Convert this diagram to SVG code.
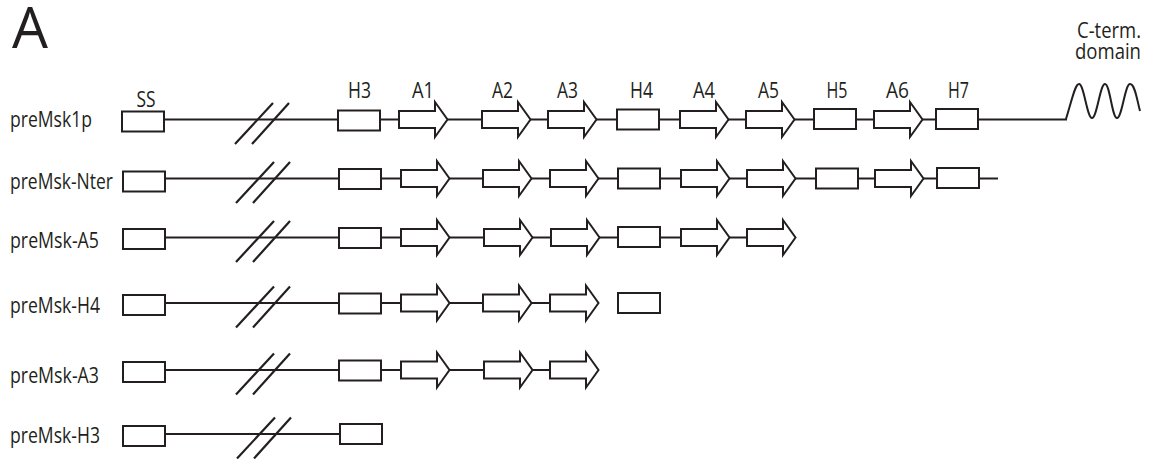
<svg xmlns="http://www.w3.org/2000/svg" width="1149" height="459" viewBox="0 0 1149 459">
<style>
.bb{stroke:#231f20;stroke-width:2;fill:none}
.sl{stroke:#231f20;stroke-width:2.2;fill:none}
.bx{fill:#fff;stroke:#231f20;stroke-width:2}
.lab{font-family:"Open Sans","Liberation Sans",sans-serif;font-size:21px;fill:#231f20}
.top{font-family:"Open Sans","Liberation Sans",sans-serif;font-size:21px;fill:#231f20;text-anchor:middle}
</style>
<defs>
<path id="arr" d="M0,-8.5 H36 V-17.5 L48.5,0 L36,17.5 V8.5 H0 Z" class="bx"/>
<rect id="box" x="0" y="-10" width="42" height="20" class="bx"/>
<g id="brk"><line x1="0" y1="24.5" x2="38" y2="-16.5" class="sl"/><line x1="17" y1="24.5" x2="54" y2="-16.5" class="sl"/></g>
</defs>
<rect width="1149" height="459" fill="#fff"/>
<text x="12" y="48" font-family="'Open Sans','Liberation Sans',sans-serif" font-size="56" fill="#231f20" textLength="36" lengthAdjust="spacingAndGlyphs">A</text>
<g id="connectors">
<line x1="164" y1="119.5" x2="1067" y2="119.5" class="bb"/>
<path d="M1066,119 C1072,100 1075,84 1079,84 C1084,84 1087,118 1092,118 C1097,118 1100,84 1105,84 C1110,84 1112,118 1117,118 C1122,118 1125,84 1130,84 C1135,84 1137,100 1140,111" class="bb" stroke-width="1.8"/>
<line x1="165" y1="178.5" x2="998" y2="178.5" class="bb"/>
<line x1="165" y1="237.5" x2="747" y2="237.5" class="bb"/>
<line x1="165" y1="303" x2="550" y2="303" class="bb"/>
<line x1="165" y1="370" x2="550" y2="370" class="bb"/>
<line x1="166" y1="434" x2="340" y2="434" class="bb"/>
</g>
<g id="row-preMsk1p">
<text class="lab" x="10" y="127" textLength="82" lengthAdjust="spacingAndGlyphs">preMsk1p</text>
<text class="top" x="146" y="107" textLength="19" lengthAdjust="spacingAndGlyphs">SS</text>
<text class="top" x="359.5" y="98" textLength="23" lengthAdjust="spacingAndGlyphs">H3</text>
<text class="top" x="423" y="98" textLength="22" lengthAdjust="spacingAndGlyphs">A1</text>
<text class="top" x="502.5" y="98" textLength="21" lengthAdjust="spacingAndGlyphs">A2</text>
<text class="top" x="567.5" y="98" textLength="21" lengthAdjust="spacingAndGlyphs">A3</text>
<text class="top" x="641.5" y="98" textLength="23" lengthAdjust="spacingAndGlyphs">H4</text>
<text class="top" x="704" y="98" textLength="22" lengthAdjust="spacingAndGlyphs">A4</text>
<text class="top" x="768.5" y="98" textLength="21" lengthAdjust="spacingAndGlyphs">A5</text>
<text class="top" x="837" y="98" textLength="21" lengthAdjust="spacingAndGlyphs">H5</text>
<text class="top" x="897.5" y="98" textLength="23" lengthAdjust="spacingAndGlyphs">A6</text>
<text class="top" x="958.5" y="98" textLength="21" lengthAdjust="spacingAndGlyphs">H7</text>
<text class="top" x="1109" y="38" font-size="20" textLength="64" lengthAdjust="spacingAndGlyphs">C-term.</text>
<text class="top" x="1108" y="59" font-size="20" textLength="66" lengthAdjust="spacingAndGlyphs">domain</text>
<use href="#box" x="122" y="121.5"/>
<use href="#brk" x="235" y="119.5"/>
<use href="#box" x="338" y="120.5"/>
<use href="#arr" x="399" y="119.5"/>
<use href="#arr" x="482" y="119.5"/>
<use href="#arr" x="548" y="119.5"/>
<use href="#box" x="617" y="119.5"/>
<use href="#arr" x="680" y="119.5"/>
<use href="#arr" x="746" y="119.5"/>
<use href="#box" x="814" y="119"/>
<use href="#arr" x="874" y="119.5"/>
<use href="#box" x="936" y="119"/>
</g>
<g id="row-preMsk-Nter">
<text class="lab" x="10" y="189" textLength="103" lengthAdjust="spacingAndGlyphs">preMsk-Nter</text>
<use href="#box" x="123" y="181.5"/>
<use href="#brk" x="236" y="178.5"/>
<use href="#box" x="339" y="179"/>
<use href="#arr" x="401" y="178.5"/>
<use href="#arr" x="483" y="178.5"/>
<use href="#arr" x="550" y="178.5"/>
<use href="#box" x="618" y="178.5"/>
<use href="#arr" x="681" y="178.5"/>
<use href="#arr" x="747" y="178.5"/>
<use href="#box" x="816" y="178.5"/>
<use href="#arr" x="875" y="178.5"/>
<use href="#box" x="937" y="178"/>
</g>
<g id="row-preMsk-A5">
<text class="lab" x="10" y="248" textLength="89" lengthAdjust="spacingAndGlyphs">preMsk-A5</text>
<use href="#box" x="123" y="239"/>
<use href="#brk" x="236" y="237.5"/>
<use href="#box" x="339" y="238"/>
<use href="#arr" x="401" y="237.5"/>
<use href="#arr" x="484" y="237.5"/>
<use href="#arr" x="551" y="237.5"/>
<use href="#box" x="618" y="237"/>
<use href="#arr" x="681" y="237.5"/>
<use href="#arr" x="747" y="237.5"/>
</g>
<g id="row-preMsk-H4">
<text class="lab" x="10" y="313" textLength="90" lengthAdjust="spacingAndGlyphs">preMsk-H4</text>
<use href="#box" x="123" y="305"/>
<use href="#brk" x="236" y="303"/>
<use href="#box" x="339" y="303.5"/>
<use href="#arr" x="401" y="303"/>
<use href="#arr" x="483" y="303"/>
<use href="#arr" x="550" y="303"/>
<use href="#box" x="618" y="303"/>
</g>
<g id="row-preMsk-A3">
<text class="lab" x="10" y="383" textLength="89" lengthAdjust="spacingAndGlyphs">preMsk-A3</text>
<use href="#box" x="123" y="372"/>
<use href="#brk" x="236" y="370"/>
<use href="#box" x="339" y="370.5"/>
<use href="#arr" x="401" y="370"/>
<use href="#arr" x="484" y="370"/>
<use href="#arr" x="550" y="370"/>
</g>
<g id="row-preMsk-H3">
<text class="lab" x="10" y="443" textLength="90" lengthAdjust="spacingAndGlyphs">preMsk-H3</text>
<use href="#box" x="123" y="436"/>
<use href="#brk" x="237" y="434"/>
<use href="#box" x="340" y="434"/>
</g>
</svg>
